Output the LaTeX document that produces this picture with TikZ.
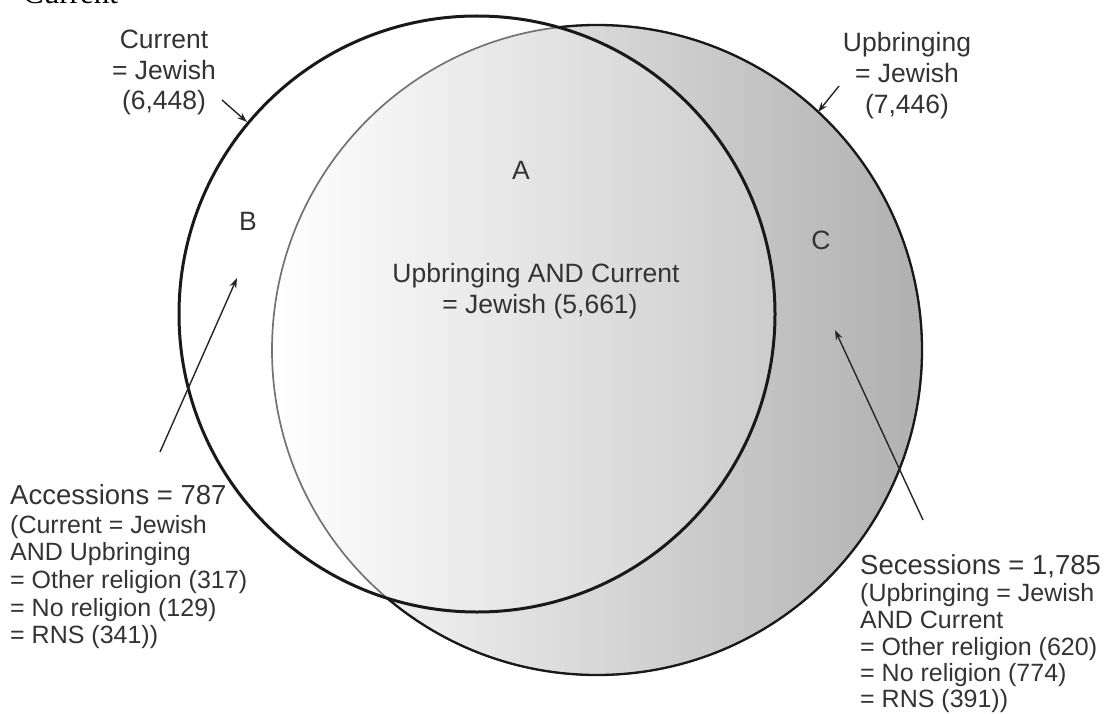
\documentclass[tikz,border=0pt]{standalone}
\usepackage{fontspec}
\setmainfont{Liberation Sans}
\newfontfamily\timesfont{Liberation Serif}
\usetikzlibrary{arrows.meta}
\definecolor{txt}{gray}{0.2}
\begin{document}
\begin{tikzpicture}[x=1pt,y=-1pt,
  lbl/.style={text=txt, inner sep=0pt, anchor=base, font=\fontsize{26.5}{30}\selectfont},
  hdr/.style={text=txt, inner sep=0pt, anchor=base west, font=\fontsize{27.5}{30}\selectfont},
  sub/.style={text=txt, inner sep=0pt, anchor=base west, font=\fontsize{25}{28}\selectfont},
  pointer/.style={draw=black!85, line width=1.4pt, -{Stealth[length=10pt,width=7pt]}}]
\useasboundingbox (0,0) rectangle (1108,714);
% circles
\path[left color=white, right color=black!31] (597,350) circle[radius=325];
\fill[white, opacity=0.18] (477,314) circle[radius=298];
\draw[black!55, line width=1.7pt] (597,350) circle[radius=325];
\begin{scope}[even odd rule]
  \clip (-10,-10) rectangle (1120,730) (477,314) circle[radius=298];
  \draw[black!90, line width=2.3pt] (597,350) circle[radius=325];
\end{scope}
\draw[black!90, line width=3pt] (477,314) circle[radius=298];
% cut-off heading
\node[font=\timesfont\fontsize{31}{31}\selectfont, anchor=base west, inner sep=0pt] (cut) at (23,4) {Current};
% circle labels
\node[lbl] (cur1) at (164,49) {Current};
\node[lbl] (cur2) at (164,80) {= Jewish};
\node[lbl] (cur3) at (164,110) {(6,448)};
\node[lbl] (upb1) at (907,52) {Upbringing};
\node[lbl] (upb2) at (907,83) {= Jewish};
\node[lbl] (upb3) at (907,114) {(7,446)};
\coordinate (curS) at (222,100);
\coordinate (curT) at (247,122);
\coordinate (upbS) at (839,86);
\coordinate (upbT) at (818,112);
\draw[pointer] (curS) -- (curT);
\draw[pointer] (upbS) -- (upbT);
% region letters
\node[lbl] (A) at (521,180) {A};
\node[lbl] (B) at (248,230) {B};
\node[lbl] (C) at (821,249) {C};
% centre
\node[lbl] (mid1) at (536,282) {Upbringing AND Current};
\node[lbl] (mid2) at (540,313) {= Jewish (5,661)};
% accessions
\node[hdr] (acc1) at (10,504) {Accessions = 787};
\node[sub] (acc2) at (10,533) {(Current = Jewish};
\node[sub] (acc3) at (10,560) {AND Upbringing};
\node[sub] (acc4) at (10,588) {= Other religion (317)};
\node[sub] (acc5) at (10,616) {= No religion (129)};
\node[sub] (acc6) at (10,643) {= RNS (341))};
% secessions
\node[hdr] (sec1) at (860,574) {Secessions = 1,785};
\node[sub] (sec2) at (860,601) {(Upbringing = Jewish};
\node[sub] (sec3) at (860,628) {AND Current};
\node[sub] (sec4) at (860,655) {= Other religion (620)};
\node[sub] (sec5) at (860,681) {= No religion (774)};
\node[sub] (sec6) at (860,707) {= RNS (391))};
\coordinate (accS) at (160,452);
\coordinate (accT) at (237,278);
\coordinate (secS) at (923,520);
\coordinate (secT) at (835,330);
\draw[pointer] (accS) -- (accT);
\draw[pointer] (secS) -- (secT);
\end{tikzpicture}
\end{document}
